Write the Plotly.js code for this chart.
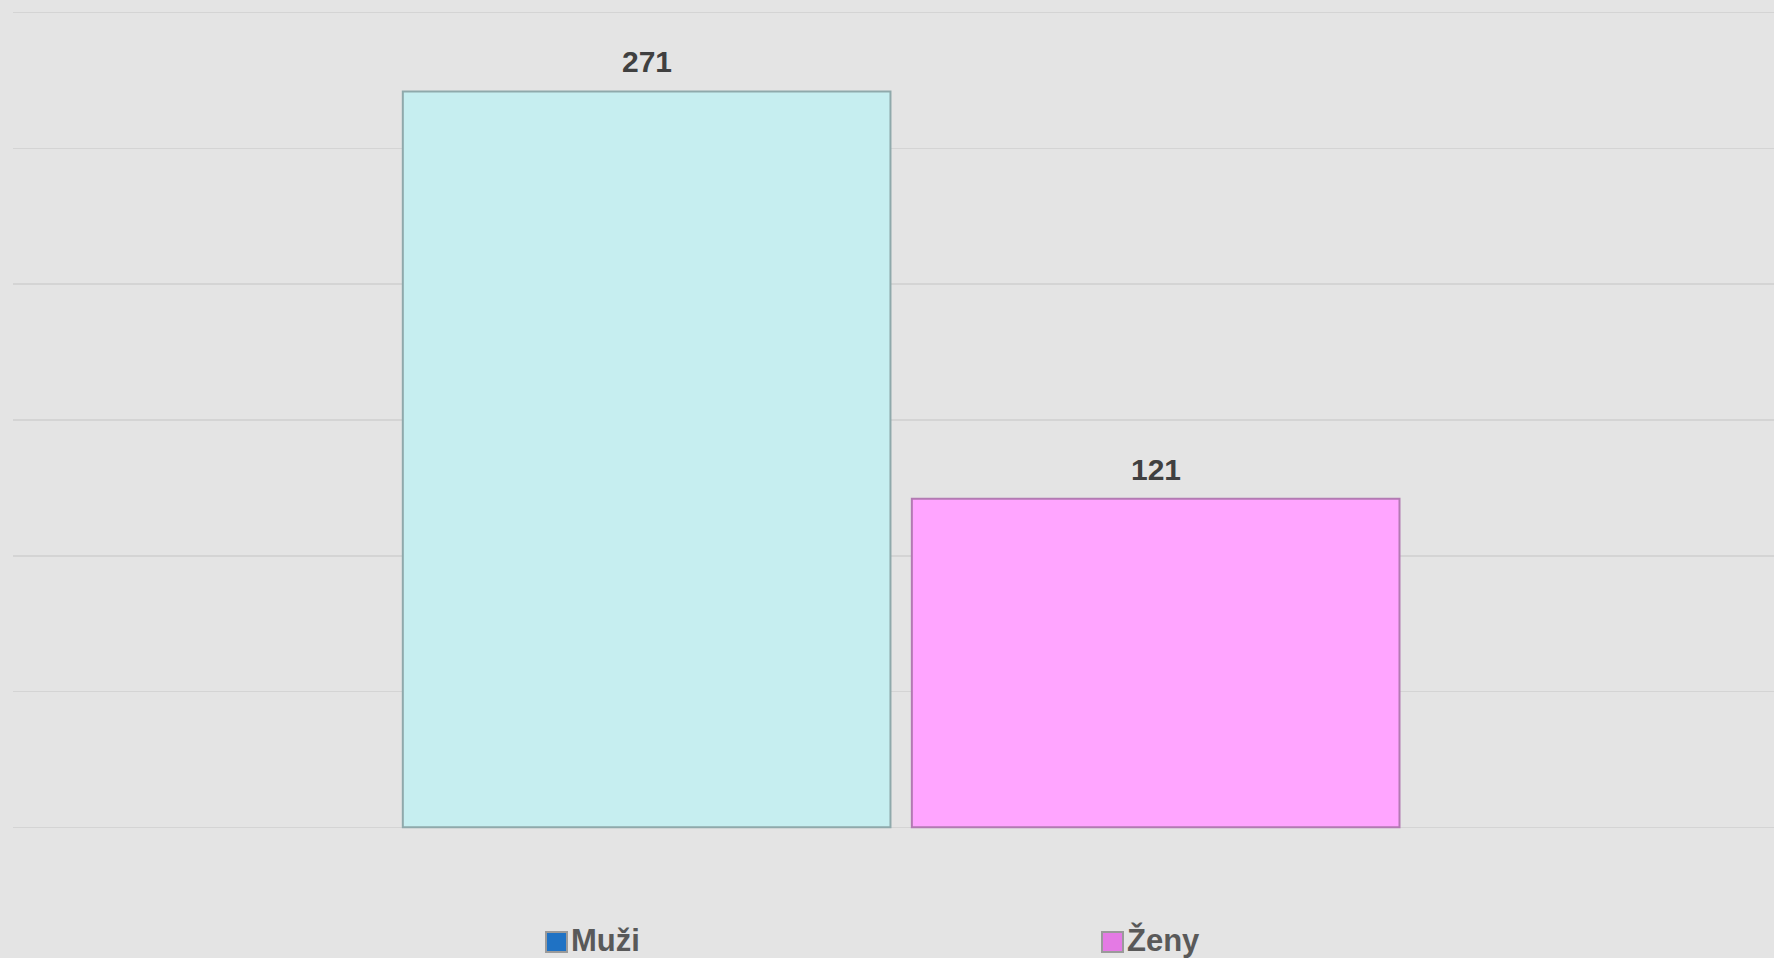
<!DOCTYPE html>
<html>
<head>
<meta charset="utf-8">
<script src="https://cdn.plot.ly/plotly-3.0.1.min.js"></script>
<style>html,body{margin:0;padding:0;background:#e4e4e4;}#chart{width:1774px;height:958px;}</style>
</head>
<body>
<div id="chart"></div>
<script>
const categories = ['Muži', 'Ženy'];
const values = [271, 121];
const barColors = ['#c6eef0', '#ffa5ff'];
const barEdgeColors = ['#8fa9ab', '#b27ab2'];
const legendColors = ['#1f72c4', '#e47ae4'];

const trace = {
  type: 'bar',
  x: categories,
  y: values,
  width: 0.958,
  marker: {color: barColors, line: {color: barEdgeColors, width: 2}},
  showlegend: false,
  hoverinfo: 'x+y'
};

const FONT = 'Liberation Sans, Arial, Helvetica, sans-serif';
const W = 1774, H = 958, L = 13, R = 0, T = 10, B = 128;
const pw = W - L - R, ph = H - T - B;
const px = v => (v - L) / pw;
const py = v => (H - B - v) / ph;

const annotations = categories.map((c, i) => ({
  x: c, y: values[i], xref: 'x', yref: 'y',
  text: String(values[i]), showarrow: false,
  yanchor: 'bottom', yshift: 11,
  font: {family: FONT, size: 30, color: '#404040', weight: 'bold'}
}));

const legendMarkerX = [546, 1102];
const shapes = [];
categories.forEach((c, i) => {
  const x0 = legendMarkerX[i];
  shapes.push({type: 'rect', xref: 'paper', yref: 'paper',
    x0: px(x0), x1: px(x0 + 21), y0: py(952), y1: py(932),
    fillcolor: legendColors[i], line: {color: '#9a9a9a', width: 2}});
  annotations.push({
    xref: 'paper', yref: 'paper', x: px(x0 + 23), y: py(940),
    xanchor: 'left', yanchor: 'middle', showarrow: false,
    text: c, font: {family: FONT, size: 31, color: '#595959', weight: 'bold'}
  });
});

const layout = {
  width: W, height: H,
  margin: {l: L, r: R, t: T, b: B, pad: 0},
  paper_bgcolor: '#e4e4e4',
  plot_bgcolor: '#e4e4e4',
  showlegend: false,
  xaxis: {type: 'category', range: [-1.2448, 2.2147], showticklabels: false,
    showgrid: false, zeroline: false, showline: false, ticks: ''},
  yaxis: {range: [-1, 301], tick0: 0, dtick: 50, showticklabels: false,
    showgrid: true, gridcolor: '#d4d4d4', gridwidth: 1.5, zeroline: false,
    showline: false, ticks: ''},
  annotations: annotations,
  shapes: shapes
};

Plotly.newPlot('chart', [trace], layout, {displayModeBar: false, staticPlot: true});
</script>
</body>
</html>
